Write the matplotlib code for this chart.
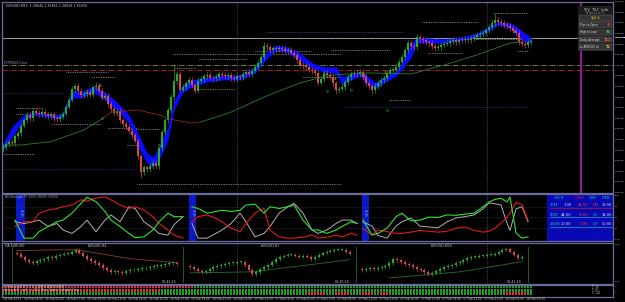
import numpy as np
import matplotlib
matplotlib.use("Agg")
import matplotlib.pyplot as plt
from matplotlib.patches import Rectangle

# ── Global style ─────────────────────────────────────────────────────────────
plt.rcParams.update({
    "font.family":      "DejaVu Sans",
    "figure.facecolor": "black",
    "axes.facecolor":   "black",
    "axes.linewidth":   0.8,
})

W, H = 625, 302
BORDER = "#6c6c9c"
AXIS_TXT = "#c8c8c8"

# ── Main chart: EURUSD M15, closes in pips above 1.36000 ─────────────────────
closes = [
    31.5, 32.8, 34.0, 33.2, 36.5, 38.0, 41.5, 44.0, 46.5, 45.2,
    48.5, 47.6, 47.0, 48.2, 46.9, 46.0, 46.8, 45.2, 44.6, 45.8,
    47.2, 50.5, 53.8, 58.9, 60.2, 57.8, 55.9, 56.5, 57.4, 56.2,
    59.6, 60.4, 58.0, 54.8, 55.5, 51.8, 49.5, 47.6, 48.4, 44.0,
    42.2, 40.8, 39.0, 36.9, 34.5, 27.0, 19.5, 21.8, 21.0, 22.5,
    23.8, 22.6, 30.8, 38.5, 44.0, 48.9, 55.0, 62.5, 66.0, 58.5,
    59.8, 61.5, 63.0, 60.5, 58.0, 62.8, 63.5, 64.8, 65.4, 64.2,
    63.8, 64.5, 66.0, 65.4, 64.8, 65.5, 64.0, 63.5, 64.8, 64.5,
    65.8, 66.8, 66.0, 67.5, 69.2, 71.0, 74.0, 79.0, 78.5, 77.2,
    78.0, 77.5, 78.2, 77.8, 76.9, 77.2, 76.0, 74.9, 72.5, 70.1,
    69.6, 69.2, 68.0, 67.4, 66.4, 61.8, 63.5, 66.4, 65.5, 64.5,
    61.5, 58.3, 59.0, 59.8, 62.0, 64.5, 65.8, 66.4, 66.0, 66.8,
    64.5, 61.7, 60.0, 58.3, 60.2, 61.7, 63.0, 64.0, 66.5, 67.8,
    68.0, 69.2, 71.5, 73.9, 77.0, 80.5, 79.0, 78.6, 83.3, 82.5,
    81.9, 80.8, 80.5, 79.2, 78.0, 78.6, 79.5, 80.2, 80.5, 81.4,
    81.9, 81.0, 82.0, 81.9, 82.4, 82.0, 82.9, 83.5, 84.3, 84.8,
    85.2, 86.5, 88.1, 90.0, 91.4, 90.4, 90.0, 89.0, 88.5, 87.6,
    86.4, 85.2, 81.0, 80.2, 79.6, 81.0, 81.2,
]
first_open = 30.5
long_upper_wicks = {31: 1.9, 57: 7.5, 87: 2.0, 138: 1.5, 164: 3.5}
long_lower_wicks = {46: 2.5, 111: 2.0, 123: 2.0}

# blue MA ribbon (bar index, upper, lower) in pips
band_idx = [0, 3, 7, 11, 18, 20, 23, 26, 30, 34, 38, 42, 45, 48, 50, 52, 55, 57,
            60, 63, 68, 73, 79, 84, 87, 91, 95, 99, 103, 107, 111, 113, 116, 119,
            121, 124, 127, 131, 133, 136, 138, 142, 146, 150, 154, 158, 162, 165,
            169, 172, 174, 176]
band_hi = [33.3, 40.9, 46.6, 48.0, 46.6, 48.0, 58.3, 57.4, 60.2, 57.4, 52.7, 46.6,
           38.1, 28.6, 26.7, 31.5, 40.9, 53.6, 60.7, 63.1, 64.5, 65.4, 65.4, 69.2,
           74.9, 79.6, 78.6, 75.8, 71.1, 69.2, 69.2, 64.5, 65.9, 67.3, 65.4, 62.1,
           64.5, 67.3, 71.1, 80.5, 83.3, 82.9, 82.4, 82.9, 83.8, 85.2, 88.5, 90.4,
           90.0, 87.6, 85.2, 82.9]
band_lo = [30.0, 36.2, 44.2, 46.6, 44.7, 45.6, 54.6, 54.6, 57.4, 53.6, 48.9, 42.8,
           31.5, 23.9, 22.0, 25.3, 34.8, 48.9, 57.4, 59.8, 62.1, 63.1, 63.1, 66.4,
           71.6, 77.2, 75.8, 72.5, 68.7, 66.8, 66.4, 60.7, 63.1, 65.0, 61.7, 58.8,
           61.7, 65.0, 67.8, 73.9, 80.5, 80.5, 80.5, 81.0, 81.9, 83.3, 86.2, 89.0,
           87.6, 83.3, 81.0, 80.5]

# long moving average (bar index, pips); rising part green, falling part red
ma_up1_idx = [1, 6, 16, 27, 33]
ma_up1_val = [32.4, 32.4, 34.0, 39.5, 44.7]
ma_dn_idx = [33, 36, 45, 52, 57, 63, 66]
ma_dn_val = [44.7, 47.9, 48.9, 46.6, 44.2, 42.8, 43.3]
ma_up2_idx = [66, 76, 87, 99, 109, 122, 136, 147, 158, 169, 173]
ma_up2_val = [43.3, 47.9, 55.0, 61.7, 65.4, 66.4, 65.9, 70.1, 74.9, 80.5, 81.0]

# dotted support / resistance levels: (from bar, to bar, pips, colour)
levels = [
    (-0.3, 10.3, 28.2, "#d8d8d8"), (4.3, 13.6, 49.7, "#d8d8d8"),
    (4.3, 13.6, 46.9, "#d8d8d8"), (16.3, 32.2, 42.3, "#d8d8d8"),
    (20.9, 34.9, 66.7, "#d8d8d8"), (29.6, 37.5, 64.3, "#e8d060"),
    (34.9, 44.8, 40.3, "#d8d8d8"), (41.5, 52.1, 39.8, "#d8d8d8"),
    (41.5, 44.8, 32.4, "#d8d8d8"), (44.8, 112.6, 14.0, "#d8d8d8"),
    (-0.3, 44.8, 20.9, "#3a3ad0"), (-0.3, 20.3, 57.1, "#3a3ad0"),
    (56.8, 112.6, 75.2, "#d8d8d8"), (65.4, 81.4, 72.8, "#d8d8d8"),
    (57.5, 64.1, 68.6, "#d8d8d8"), (65.4, 77.4, 58.7, "#e8d060"),
    (88.0, 133.2, 85.6, "#6a6ad0"), (84.0, 102.6, 76.7, "#d8d8d8"),
    (100.0, 112.0, 64.3, "#d8d8d8"), (109.3, 128.5, 77.2, "#d8d8d8"),
    (113.3, 175.0, 50.2, "#3a3ad0"), (128.5, 135.8, 53.6, "#d8d8d8"),
    (139.8, 158.4, 90.3, "#d8d8d8"), (141.8, 153.1, 75.7, "#d8d8d8"),
    (157.0, 175.0, 82.3, "#d8d8d8"), (163.7, 175.0, 94.5, "#d8d8d8"),
    (171.7, 175.0, 76.7, "#d8d8d8"),
]

# fractal counters (bar, pips, label, colour)
counters = [
    (0.3, 31.5, "0", "#3aa0ff"), (33.0, 44.7, "9", "#40c040"),
    (32.3, 60.2, "8", "#e0a030"), (52.0, 31.8, "9", "#a0c020"),
    (99.0, 70.1, "8", "#e0a030"), (108.0, 57.5, "9", "#40c040"),
    (110.7, 63.5, "4", "#e0a030"), (116.0, 58.0, "9", "#40c040"),
    (120.2, 65.0, "3", "#e080c0"), (125.3, 60.2, "0", "#3aa0ff"),
    (127.3, 66.4, "3", "#e0a030"), (128.0, 48.4, "9", "#40c040"),
    (170.3, 85.6, "3", "#e0a030"),
]

bid_pips = 83.0
pivot_pips = 70.1
red_level_pips = 67.8
price_ticks = [100 - 5 * i for i in range(19)]

# ── Currency strength oscillator (three segments) ───────────────────────────
osc_x = [
    [4, 7, 10, 12, 15, 18, 20, 23, 26, 28, 31, 34, 36, 39, 42, 44, 47, 50, 52, 55, 57, 60],
    [63, 65, 68, 71, 73, 76, 79, 81, 84, 87, 89, 92, 95, 97, 100, 103, 105, 108, 111, 113, 116, 118],
    [120, 123, 125, 128, 131, 133, 136, 139, 142, 145, 148, 151, 154, 157, 160, 162, 164, 166, 168, 169, 171, 173, 175],
]
osc_green = [
    [44, 2, 2, 17, 29, 40, 44, 60, 83, 97, 87, 64, 44, 29, 13, 3, 5, 21, 40, 60, 52, 52],
    [75, 71, 60, 64, 67, 64, 67, 79, 81, 60, 75, 71, 75, 79, 44, 21, 21, 13, 21, 29, 40, 36],
    [44, 9, 13, 25, 52, 60, 42, 44, 51, 50, 56, 55, 58, 60, 75, 86, 92, 95, 86, 98, 14, 2, 5],
]
osc_red = [
    [29, 40, 40, 60, 67, 71, 75, 79, 91, 88, 95, 98, 91, 79, 71, 75, 67, 52, 36, 21, 9, 2],
    [40, 52, 56, 48, 40, 25, 17, 36, 60, 71, 21, 5, 2, 2, 4, 9, 2, 4, 9, 5, 13, 9],
    [25, 9, 21, 17, 13, 13, 16, 20, 18, 16, 18, 25, 28, 20, 16, 18, 25, 37, 50, 60, 85, 80, 44],
]
osc_gray = [
    [40, 36, 40, 44, 29, 36, 21, 13, 29, 44, 17, 44, 56, 40, 75, 71, 40, 25, 13, 9, 33, 52],
    [36, 2, 2, 13, 21, 36, 60, 40, 5, 13, 29, 60, 75, 83, 60, 21, 13, 21, 36, 44, 44, 36],
    [40, 30, 8, 2, 30, 40, 49, 30, 28, 26, 40, 49, 52, 56, 70, 84, 82, 79, 37, 20, 70, 75, 40],
]
osc_marks = [(4.3, 7.3), (62.0, 64.5), (119.5, 121.9)]

table_rows = [
    ("15M", "1.00", "44.00", "DN", "39.00"),
    ("60M", "44.00", "10.00", "UP", "34.00"),
    ("240M", "50.00", "0.00", "UP", "50.00"),
]

# ── Multi timeframe Heikin Ashi minis (closes, arbitrary pip units) ─────────
mini_titles = ["EURUSD,H4", "EURUSD,H1", "EURUSD,M30"]
mini_h4 = [36, 33, 30, 28, 27, 29, 30, 31, 33, 32, 34, 35, 36, 36, 38, 40, 37, 34,
           31, 29, 27, 25, 22, 20, 18, 19, 18, 17, 19, 20, 20, 21, 22, 22, 23, 24,
           24, 25, 26, 27, 27, 26]
mini_h1 = [23, 21, 19, 18, 19, 21, 23, 24, 25, 26, 27, 27, 28, 28, 25, 20, 16, 18,
           21, 23, 25, 28, 31, 33, 34, 35, 35, 34, 33, 34, 33, 31, 33, 35, 37, 38,
           39, 40, 40, 40, 38, 36]
mini_m30 = [20, 21, 22, 21, 22, 23, 24, 27, 31, 30, 28, 26, 25, 23, 21, 20, 18, 16,
            17, 19, 21, 23, 24, 25, 27, 28, 30, 32, 33, 33, 34, 34, 35, 35, 36, 38,
            40, 41, 38, 35, 32, 33]
mini_ma = [
    ([0, 15, 29, 41], [39, 40, 31, 27], "#8b3a2a"),
    ([0, 16, 41], [17, 18, 30], "#2e6b2e"),
    ([7, 25, 41], [12, 18, 28], "#2e6b2e"),
]

# ── Signal matrix rows: (colour, number of cells) runs ───────────────────────
matrix_rows = [
    [("r", 64), ("g", 113)],
    [("r", 53), ("g", 124)],
    [("g", 102), ("r", 6), ("g", 3), ("r", 5), ("g", 4), ("r", 4), ("g", 2),
     ("r", 3), ("g", 39), ("r", 7), ("g", 2)],
]

time_labels = ["16 Feb 2011"] + [f"16 Feb {h:02d}:00" for h in range(3, 24, 2)] \
    + [f"17 Feb {h:02d}:00" for h in range(1, 24, 2)] + ["18 Feb 01:00", "18 Feb 03:00"]

XMIN, XMAX = -0.33, 203.33   # bar-index range of the chart window
SCALE_FS = 1.7


def fig_ax(fig, top, bottom, left=2, right=613):
    return fig.add_axes([left / W, 1 - bottom / H, (right - left) / W, (bottom - top) / H])


def style_box(ax):
    ax.set_xticks([])
    ax.set_yticks([])
    for s in ax.spines.values():
        s.set_color(BORDER)
        s.set_linewidth(0.9)


def candles(ax, xs, opens, closes_, highs, lows, width):
    for x, o, c, hi, lo in zip(xs, opens, closes_, highs, lows):
        col = "#22b022" if c >= o else "#d84848"
        ax.vlines(x, lo, hi, color=col, lw=0.45, zorder=3)
        ax.add_patch(Rectangle((x - width / 2, min(o, c)), width, max(abs(c - o), 0.3),
                               color=col, lw=0, zorder=4))


# ── Panel 1: price chart ─────────────────────────────────────────────────────
def plot_price(fig):
    ax = fig_ax(fig, 2, 192.7)
    style_box(ax)
    ax.set_xlim(XMIN, XMAX)
    ax.set_ylim(9.9, 99.86)

    n = len(closes)
    xs = np.arange(n)
    opens = [first_open] + closes[:-1]
    highs = [max(o, c) + long_upper_wicks.get(i, 1.3) for i, (o, c) in enumerate(zip(opens, closes))]
    lows = [min(o, c) - long_lower_wicks.get(i, 1.3) for i, (o, c) in enumerate(zip(opens, closes))]

    ax.fill_between(band_idx, band_lo, band_hi, color="#0a0aff", lw=0, zorder=2)
    candles(ax, xs, opens, closes, highs, lows, 0.7)

    ax.plot(ma_up1_idx, ma_up1_val, color="#2f7d2f", lw=0.6, zorder=5)
    ax.plot(ma_dn_idx, ma_dn_val, color="#8b2a2a", lw=0.6, zorder=5)
    ax.plot(ma_up2_idx, ma_up2_val, color="#2f7d2f", lw=0.6, zorder=5)

    for x0, x1, p, col in levels:
        ax.plot([x0, x1], [p, p], color=col, lw=0.5, ls=(0, (1, 1.5)), zorder=1)
    for x, p, t, col in counters:
        ax.text(x, p, t, color=col, fontsize=3.2, ha="center", va="center", zorder=6)

    ax.axhline(bid_pips, color="#9a9a9a", lw=0.7, zorder=1)
    ax.axhline(pivot_pips, color="#8a8a50", lw=0.6, ls="-.", zorder=1)
    ax.axhline(red_level_pips, color="#b02020", lw=0.6, ls="-.", zorder=1)
    for v in (78.0, 161.3):
        ax.axvline(v, color="#55557a", lw=0.6, ls=(0, (1, 1.5)), zorder=1)
    ax.axvline(192.6, color="#8a1f8a", lw=1.6, zorder=1)

    # right price scale
    for p in price_ticks:
        ax.text(1.003, (p - 9.9) / (99.86 - 9.9), f"{1.36 + p / 10000:.5f}",
                transform=ax.transAxes, color=AXIS_TXT, fontsize=SCALE_FS, va="center")
    ax.text(1.003, (bid_pips - 9.9) / (99.86 - 9.9), f"{1.36 + bid_pips / 10000:.5f}",
            transform=ax.transAxes, color="black", fontsize=SCALE_FS, va="center",
            bbox=dict(boxstyle="square,pad=0.1", fc="#d8d8d8", ec="none"))

    fig.text(6 / W, 1 - 6 / H, "EURUSD,M15  1.36846 1.36851 1.36818 1.36830",
             color=AXIS_TXT, fontsize=2.3, va="center")
    fig.text(4 / W, 1 - 63 / H, "FCP00000 line", color="#9aa0c0", fontsize=2.3, va="center")


# ── Info box (top right) ────────────────────────────────────────────────────
def plot_info(fig):
    ax = fig.add_axes([578 / W, 1 - 51 / H, 35 / W, 45 / H])
    ax.set_xlim(0, 35)
    ax.set_ylim(45, 0)
    ax.axis("off")
    ax.add_patch(Rectangle((0, 0), 35, 45, color="#1c1c1c", lw=0))
    ax.text(17.5, 4, "TFV  'EU'  Info", color="#d0d0d0", fontsize=2.6, ha="center", va="center")
    ax.text(17.5, 7.5, "M Pairs 5 to 77", color="#909090", fontsize=1.8, ha="center", va="center")
    rows = [("Spread", "0.4", "#f0c020"), ("Pips to Open", "-3", "#ff5040"),
            ("High to Low", "36", "#40d040"), ("Daily Average", "111", "#ff6040"),
            ("to ATR(20) to", "72", "#f0c020")]
    for k, (lab, val, col) in enumerate(rows):
        y = 12 + k * 7.2
        ax.add_patch(Rectangle((1, y - 2.9), 33, 5.8, fc="#333333", ec="#6a6a6a", lw=0.3))
        if k == 0:
            ax.text(17.5, y, "Sp" + val, color=col, fontsize=2.4, ha="center", va="center")
        else:
            ax.text(2, y, lab, color="#e0e0e0", fontsize=2.1, va="center")
            ax.text(33, y, val, color=col, fontsize=2.5, ha="right", va="center",
                    fontweight="bold")


# ── Panel 2: strength oscillator ─────────────────────────────────────────────
def plot_osc(fig):
    ax = fig_ax(fig, 193.5, 241)
    style_box(ax)
    ax.set_xlim(XMIN, XMAX)
    ax.set_ylim(-4.65, 105.8)
    for lvl in (25, 50, 75):
        ax.axhline(lvl, color="#3c3c4c", lw=0.5, ls=(0, (1, 1.5)))
    for x0, x1 in osc_marks:
        ax.axvspan(x0, x1, color="#0a18c8", lw=0)
        ax.text((x0 + x1) / 2, 60, "23:45", color="#9fb8ff", fontsize=2.0,
                rotation=270, ha="center", va="center")
    for xs, g, r, w in zip(osc_x, osc_green, osc_red, osc_gray):
        ax.plot(xs, w, color="#b0b0b0", lw=0.7)
        ax.plot(xs, r, color="#e01818", lw=0.8)
        ax.plot(xs, g, color="#30e030", lw=0.8)
    for v in (78.0, 161.3):
        ax.axvline(v, color="#55557a", lw=0.6, ls=(0, (1, 1.5)))

    ax.add_patch(Rectangle((181.3, -4.65), XMAX - 181.3, 110.45, color="#0808b4", lw=0))
    cols = [(187.0, "EUR", "#18c8a0"), (194.0, "USD", "#e02020"),
            (198.0, "DIR", "#18c8a0"), (202.5, "STR", "#18c8a0")]
    for x, t, c in cols:
        ax.text(x, 96, t, color=c, fontsize=3.0, ha="right", va="center", family="DejaVu Serif")
    for k, (tf, a, b, d, s) in enumerate(table_rows):
        y = 78 - k * 22
        ax.text(182.3, y, tf, color="#18c8c8", fontsize=2.6, va="center", family="DejaVu Serif")
        ax.plot([182.3, 203], [y - 6, y - 6], color="#18c8c8" if k else "#e02020", lw=0.4)
        ax.text(189.5, y, a, color="#e8e8e8", fontsize=2.6, ha="right", va="center", family="DejaVu Serif")
        ax.text(195.0, y, b, color="#ff3030", fontsize=2.6, ha="right", va="center", family="DejaVu Serif")
        ax.text(198.5, y, d, color="#ff3030" if d == "DN" else "#18c8a0", fontsize=2.6,
                ha="right", va="center", family="DejaVu Serif")
        ax.text(203.0, y, s, color="#e8e8e8", fontsize=2.6, ha="right", va="center", family="DejaVu Serif")

    for lvl, lab in [(100, "100"), (75, "75"), (50, "50"), (25, "25"), (0, "0.00")]:
        ax.text(1.003, (lvl + 4.65) / 110.45, lab, transform=ax.transAxes,
                color=AXIS_TXT, fontsize=SCALE_FS, va="center")
    fig.text(5 / W, 1 - 197 / H, "AS Strength TF 5000 30000 30000", color="#a0a0b0",
             fontsize=2.2, va="center")


# ── Panel 3: multi timeframe minis ───────────────────────────────────────────
def plot_minis(fig):
    ax = fig_ax(fig, 242.5, 284)
    style_box(ax)
    ax.set_xlim(2, 613)
    ax.set_ylim(6, 47)
    starts = [17, 190, 362]
    for series, x0, title, (mx, my, mc) in zip([mini_h4, mini_h1, mini_m30], starts,
                                               mini_titles, mini_ma):
        xs = x0 + 3.9 * np.arange(len(series))
        opens = [series[0] + 1] + series[:-1]
        highs = [max(o, c) + 1.8 for o, c in zip(opens, series)]
        lows = [min(o, c) - 1.8 for o, c in zip(opens, series)]
        candles(ax, xs, opens, series, highs, lows, 2.0)
        ax.plot(x0 + 3.9 * np.array(mx), my, color=mc, lw=0.6, zorder=2)
        ax.text(x0 + 80, 44, title, color=AXIS_TXT, fontsize=2.3, ha="center", va="center")
        ax.text(x0 + 152, 8, "00:45:15", color=AXIS_TXT, fontsize=2.3, ha="center", va="center")
    for v in (12, 183, 356, 528):
        ax.axvline(v, color="#1f6a1f", lw=0.6, ymin=0.05, ymax=0.9)
    for v in (237, 487):
        ax.axvline(v, color="#55557a", lw=0.6, ls=(0, (1, 1.5)))
    ax.text(5, 44, "HA EURUSD", color=AXIS_TXT, fontsize=2.3, va="center")
    ax.text(1.003, 0.95, "1.05", transform=ax.transAxes, color=AXIS_TXT, fontsize=SCALE_FS, va="center")
    ax.text(1.003, 0.06, "0.00", transform=ax.transAxes, color=AXIS_TXT, fontsize=SCALE_FS, va="center")


# ── Panel 4: signal matrix ───────────────────────────────────────────────────
def plot_matrix(fig):
    ax = fig_ax(fig, 284.5, 296.5)
    style_box(ax)
    ax.set_xlim(XMIN, XMAX)
    ax.set_ylim(0, 3.4)
    cmap = {"r": "#d83030", "g": "#1e9e1e"}
    for r, runs in enumerate(matrix_rows):
        i = 0
        y = 2.4 - r * 1.0
        for c, cnt in runs:
            for k in range(cnt):
                ax.add_patch(Rectangle((i + k - 0.4, y), 0.8, 0.75, color=cmap[c], lw=0))
            i += cnt
    ax.text(0.5, 2.75, "1 H Strength TF 5 1 3 1 3000 3 0000 3 0000", color="#e8d8a0",
            fontsize=2.0, va="center")
    ax.text(0.5, 1.75, "Heikin Ashi - mtf  (c) 2012 Meta Quotes Software Corp.",
            color="#e8e8e8", fontsize=2.0, va="center")
    for k, t in enumerate(["TF: 15", "TF: 60", "TF: 240"]):
        ax.text(196, 2.8 - k * 0.95, t, color="#c0c0c0", fontsize=1.8, va="center")
    for lvl, lab in [(0.8, "1"), (0.3, "0")]:
        ax.text(1.003, lvl, lab, transform=ax.transAxes, color=AXIS_TXT, fontsize=SCALE_FS, va="center")


def main():
    fig = plt.figure(figsize=(W / 100, H / 100), dpi=100)
    plot_price(fig)
    plot_info(fig)
    plot_osc(fig)
    plot_minis(fig)
    plot_matrix(fig)
    for k, lab in enumerate(time_labels):
        fig.text((3 + 20.9 * k) / W, 1 - 299.5 / H, lab, color=AXIS_TXT, fontsize=2.1,
                 va="center")
    fig.savefig("out.png", dpi=100, facecolor="black")


if __name__ == "__main__":
    main()
